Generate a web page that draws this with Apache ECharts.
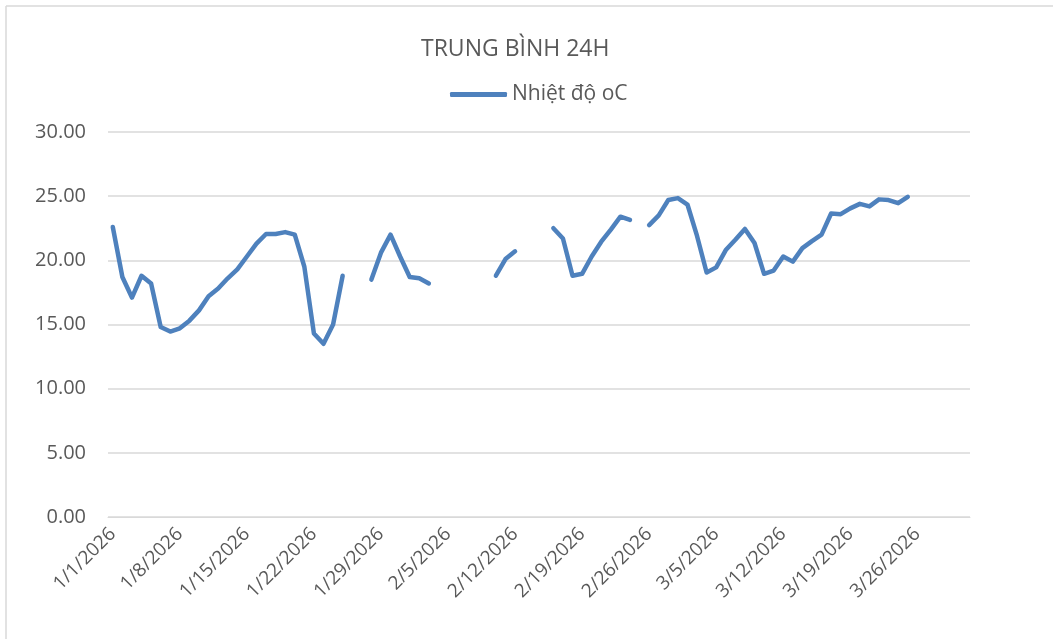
<!DOCTYPE html>
<html>
<head>
<meta charset="utf-8">
<script src="https://cdn.jsdelivr.net/npm/echarts@6/dist/echarts.min.js"></script>
<style>
  html, body { margin: 0; padding: 0; background: #fff; }
  #chart { width: 1053px; height: 639px; }
</style>
</head>
<body>
<div id="chart"></div>
<script>
// 1/1/2026 .. 3/31/2026, one category per day
const categories = [];
for (let d = new Date(2026, 0, 1); d <= new Date(2026, 2, 31); d.setDate(d.getDate() + 1)) {
  categories.push((d.getMonth() + 1) + "/" + d.getDate() + "/" + d.getFullYear());
}

// daily mean temperature, null = no reading
const temps = [
  22.6, 18.7, 17.1, 18.8, 18.2, 14.8, 14.45, 14.7, 15.3, 16.1,
  17.2, 17.8, 18.6, 19.3, 20.3, 21.3, 22.05, 22.05, 22.2, 22.0,
  19.5, 14.3, 13.5, 15.0, 18.8, null, null, 18.5, 20.6, 22.0,
  20.3, 18.7, 18.6, 18.2, null, null, null, null, null, null,
  18.8, 20.1, 20.7, null, null, null, 22.5, 21.7, 18.8, 18.95,
  20.3, 21.45, 22.4, 23.4, 23.15, null, 22.75, 23.5, 24.7, 24.85,
  24.35, 21.9, 19.05, 19.45, 20.8, 21.6, 22.45, 21.35, 18.95, 19.2,
  20.3, 19.9, 20.95, 21.5, 22.0, 23.65, 23.6, 24.05, 24.4, 24.2,
  24.75, 24.7, 24.45, 24.95, null, null, null, null, null, null
];

const seriesName = "Nhiệt độ oC";
const titleText = "TRUNG BÌNH 24H";

const chart = echarts.init(document.getElementById("chart"), null, { renderer: "canvas" });

chart.setOption({
  animation: false,
  backgroundColor: "#fff",
  textStyle: { fontFamily: "'Open Sans', 'Noto Sans', sans-serif" },
  title: {
    text: titleText,
    left: 416,
    top: 33,
    textStyle: { color: "#595959", fontSize: 23, fontWeight: "normal" }
  },
  legend: {
    top: 79,
    left: 445,
    data: [seriesName],
    icon: "roundRect",
    itemWidth: 57,
    itemHeight: 5,
    textStyle: { color: "#595959", fontSize: 21 }
  },
  grid: { left: 108, right: 83, top: 132, bottom: 122 },
  xAxis: {
    type: "category",
    data: categories,
    boundaryGap: true,
    axisLine: { lineStyle: { color: "#d9d9d9" } },
    axisTick: { show: false },
    axisLabel: {
      interval: 6,
      rotate: 45,
      margin: 14,
      color: "#595959",
      fontSize: 19
    }
  },
  yAxis: {
    type: "value",
    min: 0,
    max: 30,
    interval: 5,
    axisLine: { show: false },
    axisTick: { show: false },
    splitLine: { lineStyle: { color: "#d9d9d9", width: 1.5 } },
    axisLabel: {
      margin: 22,
      color: "#595959",
      fontSize: 20,
      formatter: v => v.toFixed(2)
    }
  },
  series: [{
    name: seriesName,
    type: "line",
    data: temps,
    connectNulls: false,
    showSymbol: false,
    symbol: "none",
    lineStyle: { color: "#4e81bd", width: 4.5, cap: "round", join: "round" },
    itemStyle: { color: "#4e81bd" }
  }],
  graphic: [
    { type: "line", shape: { x1: 6, y1: 6, x2: 1053, y2: 6 }, style: { stroke: "#d9d9d9", lineWidth: 1.5 } },
    { type: "line", shape: { x1: 6, y1: 6, x2: 6, y2: 639 }, style: { stroke: "#d9d9d9", lineWidth: 1.5 } }
  ]
});
</script>
</body>
</html>
